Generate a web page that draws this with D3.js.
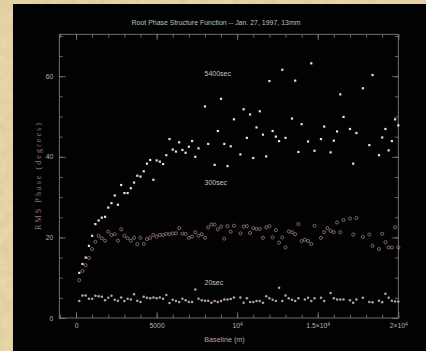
<!DOCTYPE html>
<html><head><meta charset="utf-8">
<script src="https://cdn.jsdelivr.net/npm/d3@7"></script>
<style>html,body{margin:0;padding:0;background:#e3cf9f;}svg{display:block;}</style>
</head><body>
<svg id="c" width="426" height="351"></svg>
<script>
// ---- data (baseline index i -> baseline = i*200 m) ----
const title = "Root Phase Structure Function -- Jan. 27, 1997, 13mm";
const xLabel = "Baseline (m)";
const yLabel = "RMS Phase (degrees)";
const xTickValues = [0, 5000, 10000, 15000, 20000];
const xTickBases = ["0", "5000", "10", "1.5\u00d710", "2\u00d710"];
const xTickExps  = ["", "", "4", "4", "4"];
const yTickValues = [0, 20, 40, 60];
const seriesNames = ["5400sec", "300sec", "20sec"];

const idx5400 = [1,2,3,4,5,6,7,8,9,10,11,12,13,14,15,16,17,18,19,20,21,22,23,24,25,26,27,28,29,30,31,32,33,34,35,36,37,38,40,41,43,44,45,46,47,48,49,51,52,53,54,55,56,57,58,59,60,61,62,63,64,65,67,68,69,70,72,73,74,76,77,79,80,81,82,83,85,86,87,89,91,92,94,95,96,97,98,99,100];
const val5400 = [11.2,13.4,15.0,17.9,20.4,23.3,24.2,24.9,25.1,27.4,28.5,30.4,28.1,33.0,31.0,31.0,32.2,33.6,35.3,35.1,36.4,38.3,39.2,34.3,39.1,38.8,38.2,40.4,44.4,41.8,41.3,43.6,41.7,41.0,42.5,43.9,40.0,42.1,52.5,43.2,38.0,46.4,54.4,43.2,37.7,42.6,49.3,40.6,51.8,44.7,50.5,39.7,47.3,51.3,45.5,40.1,58.8,46.4,45.0,43.9,61.6,44.7,49.5,58.9,41.2,48.1,43.8,63.2,41.5,44.4,47.5,41.1,44.0,46.3,55.5,49.9,46.9,38.3,45.9,57.0,42.9,60.3,40.4,44.8,46.9,41.6,43.9,49.3,47.8];

const idx300 = [1,2,3,4,5,6,7,8,9,10,11,12,13,14,15,16,17,18,19,20,21,22,23,24,25,26,27,28,29,30,31,32,33,34,35,36,37,38,39,40,41,42,43,44,45,46,47,48,49,51,52,53,54,55,56,57,58,59,60,61,62,63,64,65,66,67,68,69,70,71,72,73,74,76,77,78,79,80,81,82,83,85,86,87,89,91,92,94,95,96,97,98,99,100];
const val300 = [9.4,11.7,13.1,14.9,17.1,18.9,20.4,19.8,19.2,21.4,20.6,20.8,19.2,22.0,20.4,19.8,19.2,19.9,18.3,19.9,18.4,19.6,19.9,20.6,20.2,20.6,20.6,20.9,20.8,21.0,21.0,22.3,20.9,20.9,19.9,20.2,21.3,20.4,20.8,19.9,22.5,23.2,23.2,22.0,22.7,19.7,22.8,21.4,22.9,21.0,22.7,22.8,21.1,22.3,22.1,22.1,19.9,22.5,22.8,20.0,21.8,18.7,20.0,17.5,21.5,21.3,20.8,23.3,19.1,19.4,19.1,18.4,22.9,19.9,21.3,22.3,21.6,21.3,23.7,21.3,24.3,24.7,20.7,24.8,20.1,20.7,17.9,17.1,20.9,18.8,17.5,17.5,22.5,17.5];

const idx20 = [1,2,3,4,5,6,7,8,9,10,11,12,13,14,15,16,17,18,19,20,21,22,23,24,25,26,27,28,29,30,31,32,33,34,35,36,37,38,39,40,41,42,43,44,45,46,47,48,49,51,52,53,54,55,56,57,58,59,60,61,62,63,64,65,66,67,68,69,71,72,73,74,76,77,79,80,81,82,83,85,86,87,89,91,92,94,95,96,97,98,99,100];
const val20 = [4.2,5.6,5.6,4.8,4.8,5.5,5.4,5.3,4.4,5.0,5.5,4.5,4.3,5.1,4.2,4.8,4.6,5.9,4.3,4.0,5.3,5.0,4.9,5.1,4.9,5.1,4.8,5.7,3.7,4.5,4.2,4.0,4.8,4.4,4.0,4.0,7.1,4.8,4.4,4.3,4.3,3.8,4.2,4.0,4.2,4.6,4.6,4.7,5.1,5.1,3.8,4.9,4.0,4.0,4.2,4.2,3.8,5.4,4.9,4.5,4.2,7.5,4.2,5.6,4.9,4.5,4.2,4.9,4.6,5.0,4.2,4.9,5.0,4.2,6.2,4.9,4.6,4.6,4.6,4.4,3.8,4.6,5.0,4.0,3.9,4.3,3.9,6.0,5.0,4.3,4.1,4.1];

const baselineStep = 200;
const toPts = (ix, v) => ix.map((i, k) => ({x: i * baselineStep, y: v[k]}));

// ---- drawing ----
const svg = d3.select("#c");
const defs = svg.append("defs");
const f = defs.append("filter").attr("id","paper").attr("x",0).attr("y",0).attr("width","100%").attr("height","100%");
f.append("feTurbulence").attr("type","fractalNoise").attr("baseFrequency","0.09").attr("numOctaves",3).attr("seed",4).attr("result","n");
f.append("feColorMatrix").attr("in","n").attr("type","matrix")
 .attr("values","0 0 0 0 0.55  0 0 0 0 0.42  0 0 0 0 0.22  0 0 0 -1.1 0.75");
svg.append("rect").attr("width",426).attr("height",351).attr("fill","#e8d6a8");
svg.append("rect").attr("width",426).attr("height",351).attr("filter","url(#paper)").attr("opacity",0.45);
svg.append("rect").attr("x",13).attr("y",4).attr("width",413).attr("height",347).attr("fill","#020202");

const L = 59.3, R = 398.3, T = 34.3, B = 318;
const x = d3.scaleLinear().domain([-1040, 20000]).range([L, R]);
const y = d3.scaleLinear().domain([0, 70.4]).range([B, T]);

const axisCol = "#7d7d7d";
const sans = "Liberation Sans, Arial, sans-serif";
function styleAxis(g){
  g.select(".domain").remove();
  g.selectAll("line").attr("stroke", axisCol).attr("stroke-width", 0.8);
  g.selectAll("text").attr("fill", "#b4b4b4").attr("font-family",sans).attr("font-size", 6.8);
}
const xMinor = d3.range(-1000, 20001, 1000);
const yMinor = d3.range(0, 71, 5);

svg.append("g").attr("transform",`translate(0,${B})`)
  .call(d3.axisBottom(x).tickValues(xMinor).tickSize(-3.5).tickFormat("")).call(styleAxis);
svg.append("g").attr("transform",`translate(0,${T})`)
  .call(d3.axisTop(x).tickValues(xMinor).tickSize(-3.5).tickFormat("")).call(styleAxis);
const xg = svg.append("g").attr("transform",`translate(0,${B})`)
  .call(d3.axisBottom(x).tickValues(xTickValues).tickSize(-6).tickPadding(5)
  .tickFormat((d,i)=>xTickBases[i])).call(styleAxis);
xg.selectAll(".tick text").each(function(d,i){
  if (!xTickExps[i]) return;
  d3.select(this).append("tspan").attr("dy","-0.45em").attr("font-size",5).text(xTickExps[i]);
});
svg.append("g").attr("transform",`translate(0,${T})`)
  .call(d3.axisTop(x).tickValues(xTickValues).tickSize(-6).tickFormat("")).call(styleAxis);

svg.append("g").attr("transform",`translate(${L},0)`)
  .call(d3.axisLeft(y).tickValues(yMinor).tickSize(-3.5).tickFormat("")).call(styleAxis);
svg.append("g").attr("transform",`translate(${R},0)`)
  .call(d3.axisRight(y).tickValues(yMinor).tickSize(-3.5).tickFormat("")).call(styleAxis);
svg.append("g").attr("transform",`translate(${L},0)`)
  .call(d3.axisLeft(y).tickValues(yTickValues).tickSize(-6.5).tickPadding(6)).call(styleAxis);
svg.append("g").attr("transform",`translate(${R},0)`)
  .call(d3.axisRight(y).tickValues(yTickValues).tickSize(-6.5).tickFormat("")).call(styleAxis);

svg.append("rect").attr("x",L).attr("y",T).attr("width",R-L).attr("height",B-T)
  .attr("fill","none").attr("stroke",axisCol).attr("stroke-width",0.9);

// series
const p5400 = toPts(idx5400, val5400), p300 = toPts(idx300, val300), p20 = toPts(idx20, val20);
svg.append("g").selectAll("circle").data(p20).join("circle")
  .attr("cx",d=>x(d.x)).attr("cy",d=>y(d.y)).attr("r",1.25).attr("fill","#b9a2a6");
svg.append("g").selectAll("circle").data(p300).join("circle")
  .attr("cx",d=>x(d.x)).attr("cy",d=>y(d.y)).attr("r",1.55).attr("fill","none")
  .attr("stroke","#a08486").attr("stroke-width",0.75);
svg.append("g").selectAll("rect").data(p5400).join("rect")
  .attr("x",d=>x(d.x)-1.1).attr("y",d=>y(d.y)-1.1).attr("width",2.2).attr("height",2.2).attr("fill","#f2dbe2");

// texts
svg.append("text").attr("x",216).attr("y",25.2).attr("text-anchor","middle")
  .attr("font-family",sans).attr("font-size",7.4).attr("fill","#b0c2c6")
  .attr("textLength",169).attr("lengthAdjust","spacingAndGlyphs").text(title);
const labelPos = [[204.5, 75.6],[204.5, 185.2],[204.5, 285.2]];
seriesNames.forEach((n,i)=>{
  svg.append("text").attr("x",labelPos[i][0]).attr("y",labelPos[i][1])
    .attr("font-family",sans).attr("font-size",7).attr("fill","#c4c4c4").text(n);
});
svg.append("text").attr("x",224.5).attr("y",341.5).attr("text-anchor","middle")
  .attr("font-family",sans).attr("font-size",7.2).attr("fill","#b4a4a8").text(xLabel);
svg.append("text").attr("transform","translate(40.5,176.5) rotate(-90)").attr("text-anchor","middle")
  .attr("font-family","Liberation Serif, Times New Roman, serif").attr("font-size",8.2)
  .attr("fill","#937476").attr("textLength",107).attr("lengthAdjust","spacing").text(yLabel);
</script>
</body></html>
